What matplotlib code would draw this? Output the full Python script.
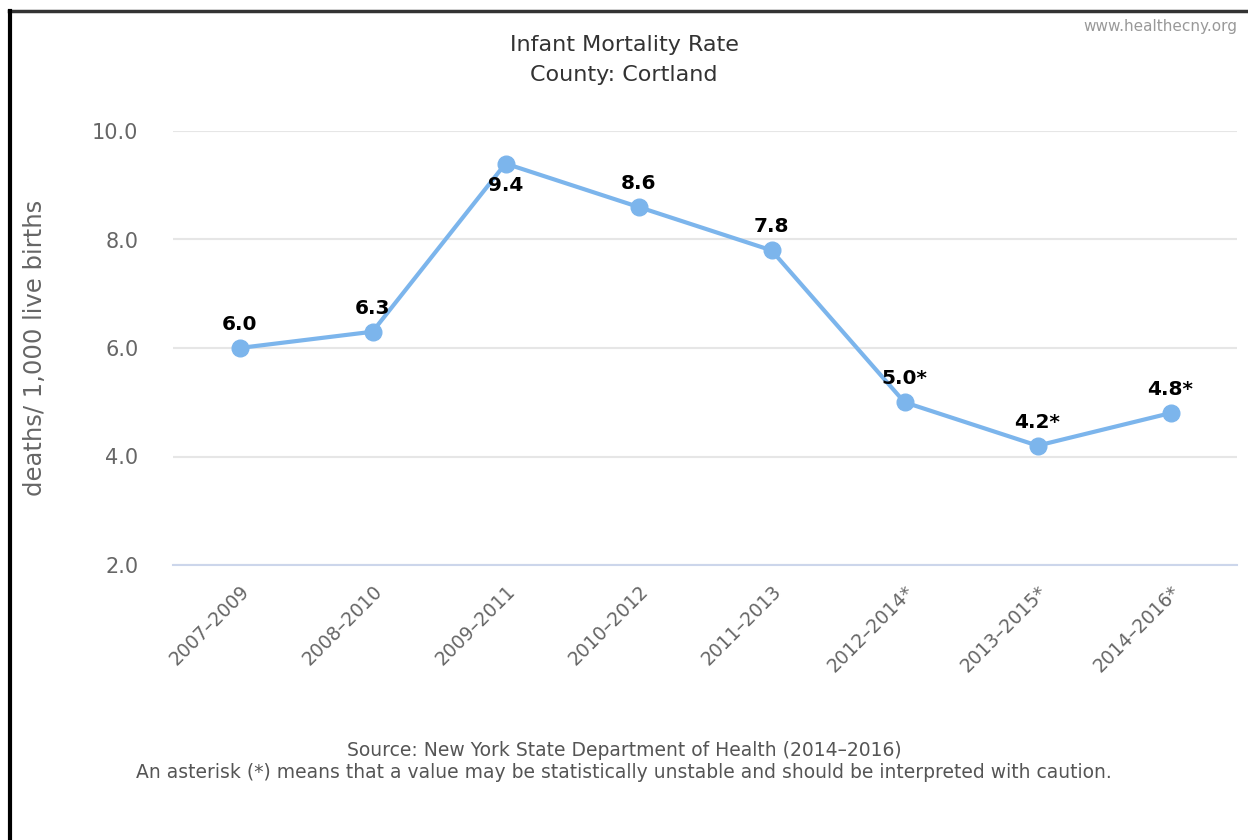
import matplotlib
matplotlib.use("Agg")
import matplotlib.pyplot as plt
from matplotlib.lines import Line2D

# data
periods = ["2007–2009", "2008–2010", "2009–2011", "2010–2012",
           "2011–2013", "2012–2014*", "2013–2015*", "2014–2016*"]
rates = [6.0, 6.3, 9.4, 8.6, 7.8, 5.0, 4.2, 4.8]
unstable = [False, False, False, False, False, True, True, True]
yticks = [2.0, 4.0, 6.0, 8.0, 10.0]

line_color = "#7cb5ec"
plt.rcParams['font.family'] = ['DejaVu Sans']

fig = plt.figure(figsize=(12.48, 8.4), dpi=100)
ax = fig.add_axes([173 / 1248, 1 - 565 / 840, (1237 - 173) / 1248, (565 - 131) / 840])

x = list(range(len(periods)))
ax.plot(x, rates, color=line_color, lw=3, marker='o', ms=12,
        markeredgecolor=line_color, zorder=3, clip_on=False)

for xi, v, star in zip(x, rates, unstable):
    txt = f"{v:.1f}" + ("*" if star else "")
    # the top point gets its label below, like the original
    if v > 9.0:
        off, va = -9, 'top'
    else:
        off, va = 10, 'bottom'
    ax.annotate(txt, (xi, v), xytext=(0, off),
                textcoords='offset points', ha='center', va=va,
                fontsize=14.5, fontweight='bold', color='black', zorder=4)

ax.set_xlim(-0.5, len(periods) - 0.5)
ax.set_ylim(2.0, 10.0)
ax.set_yticks(yticks)
ax.set_yticklabels([f"{t:.1f}" for t in yticks])
ax.set_xticks(x)
ax.set_xticklabels(periods, rotation=45, ha='right', rotation_mode='anchor')

ax.grid(axis='y', color='#e6e6e6', lw=1.5)
ax.set_axisbelow(True)
for side in ['top', 'right', 'left']:
    ax.spines[side].set_visible(False)
ax.spines['bottom'].set_color('#ccd6eb')
ax.spines['bottom'].set_linewidth(1.5)
ax.tick_params(axis='both', length=0, colors='#666666', labelsize=15)
ax.tick_params(axis='y', pad=25)
ax.tick_params(axis='x', labelsize=13.5, pad=12)

ax.set_ylabel("deaths/ 1,000 live births", fontsize=17.5, color='#666666', labelpad=32)

fig.text(0.5, 1 - 45 / 840, "Infant Mortality Rate", ha='center', va='center',
         fontsize=16, color='#333333')
fig.text(0.5, 1 - 75 / 840, "County: Cortland", ha='center', va='center',
         fontsize=16, color='#333333')
fig.text(1237 / 1248, 1 - 27 / 840, "www.healthecny.org", ha='right', va='center',
         fontsize=11, color='#999999')
fig.text(0.5, 1 - 750 / 840, "Source: New York State Department of Health (2014–2016)",
         ha='center', va='center', fontsize=13.5, color='#555555')
fig.text(0.5, 1 - 773 / 840,
         "An asterisk (*) means that a value may be statistically unstable and should be interpreted with caution.",
         ha='center', va='center', fontsize=13.5, color='#555555')

# frame edges visible in the screenshot (top and left only)
fig.add_artist(Line2D([9 / 1248, 1], [1 - 11 / 840, 1 - 11 / 840],
                      transform=fig.transFigure, color='#333333', lw=2.5))
fig.add_artist(Line2D([10 / 1248, 10 / 1248], [0, 1 - 11 / 840],
                      transform=fig.transFigure, color='black', lw=3))

fig.savefig("out.png", dpi=100, facecolor='white')
